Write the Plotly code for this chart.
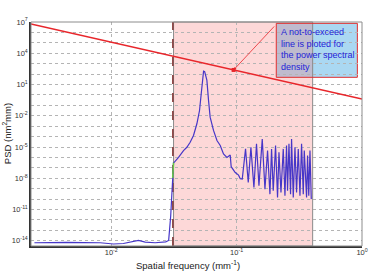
import math
import plotly.graph_objects as go

# ---------------- data ----------------
freq = [0.00244, 0.00442, 0.00815, 0.01042, 0.01250, 0.01504, 0.01648, 0.01866,
        0.02241, 0.0272, 0.0287, 0.0298, 0.0305, 0.0309, 0.0314,
        0.0318, 0.0344, 0.0377, 0.0401, 0.0426, 0.0453, 0.0482, 0.0506, 0.0522,
        0.0534, 0.0545, 0.0556, 0.0579, 0.0597, 0.0615, 0.0654, 0.0697, 0.0740,
        0.0786, 0.0837, 0.0889, 0.0905, 0.0975, 0.1036, 0.1069,
        0.1109, 0.1178, 0.1238, 0.1300, 0.1374, 0.1441, 0.1507, 0.1601, 0.1682,
        0.1765, 0.1844, 0.1900, 0.1959, 0.2044, 0.2120, 0.2176, 0.2258, 0.2355,
        0.2429, 0.2501, 0.2548, 0.2615, 0.2693, 0.2743, 0.2830, 0.2920, 0.3007,
        0.3101, 0.3200, 0.3296, 0.3401, 0.3464, 0.3613, 0.3680, 0.3762, 0.3846,
        0.3939]
psd = [6.5e-15, 7.1e-15, 6.5e-15, 4.9e-15, 5.5e-15, 7.9e-15, 1.07e-14, 7.6e-15,
       6.5e-15, 7.9e-15, 1.07e-14, 2.4e-12, 6.3e-10, 1.1e-8, 3.2e-7,
       3.4e-7, 1.0e-6, 4.6e-6, 9.4e-6, 2.9e-5, 1.3e-4, 1.7e-3, 0.032, 1.3,
       53, 190, 170, 26, 0.30, 7.4e-3, 3.9e-4, 4.2e-5, 1.4e-5,
       2.2e-6, 1.0e-6, 1.7e-6, 1.3e-7, 3.6e-8, 2.0e-8, 9.1e-9,
       8.5e-9, 6.6e-6, 4.0e-9, 9.3e-6, 1.3e-9, 2.0e-5, 1.9e-9, 6.0e-5, 9.1e-10,
       4.6e-6, 3.0e-10, 6.6e-6, 6.3e-10, 1.4e-5, 1.4e-10, 3.1e-6, 4.3e-10, 6.6e-6,
       2.1e-10, 1.4e-5, 6.3e-10, 2.0e-5, 3.0e-10, 6.0e-5, 1.4e-10, 9.3e-6, 4.3e-10,
       6.6e-6, 2.1e-10, 2.0e-5, 3.0e-10, 4.6e-6, 1.4e-10, 1.5e-6, 2.1e-10, 4.6e-6,
       1.0e-10]

green_freq = [0.0309, 0.0314]
green_psd = [1.1e-8, 3.2e-7]

limit_freq = [0.00229, 1.0]
limit_psd = [6.5e6, 0.40]

callout_freq = [0.0946]
callout_psd = [250]

band_low, band_high = 0.0314, 0.404
cutoff_freq = 0.0310

y_decades = list(range(-14, 8))
y_tickvals = [10.0 ** k for k in y_decades]
y_ticktext = [f"10<sup>{k}</sup>" if (7 - k) % 3 == 0 else "" for k in y_decades]
x_tickvals = [0.01, 0.1, 1.0]
x_ticktext = ["10<sup>-2</sup>", "10<sup>-1</sup>", "10<sup>0</sup>"]

note_text = "A not-to-exceed<br>line is ploted for<br>the power spectral<br>density"

FONT = "Arial, Liberation Sans, sans-serif"

fig = go.Figure()
fig.add_trace(go.Scatter(x=freq, y=psd, mode="lines",
                         line=dict(color="#4636c8", width=1.2), hoverinfo="skip"))
fig.add_trace(go.Scatter(x=green_freq, y=green_psd, mode="lines",
                         line=dict(color="#66cc44", width=1.5), hoverinfo="skip"))
fig.add_trace(go.Scatter(x=limit_freq, y=limit_psd, mode="lines",
                         line=dict(color="#e8262b", width=1.6), hoverinfo="skip"))
fig.add_trace(go.Scatter(x=callout_freq, y=callout_psd, mode="markers",
                         marker=dict(color="#e8262b", size=4, symbol="square"),
                         hoverinfo="skip"))

# callout box fill (below pink band)
box = dict(x0=0.741, x1=0.986, y0=0.753, y1=0.994)
fig.add_shape(type="rect", xref="paper", yref="paper", **box,
              fillcolor="#aad8f2", line=dict(width=0), layer="below")
# highlighted band
fig.add_shape(type="rect", xref="x", yref="paper", x0=band_low, x1=band_high, y0=0, y1=1,
              fillcolor="rgba(248,110,110,0.27)", line=dict(color="#8a8a8a", width=1),
              layer="below")
# callout box outline
fig.add_shape(type="rect", xref="paper", yref="paper", **box,
              fillcolor="rgba(0,0,0,0)", line=dict(color="#e03030", width=1), layer="below")
# dashed cutoff line
fig.add_shape(type="line", xref="x", yref="paper", x0=cutoff_freq, x1=cutoff_freq, y0=0, y1=1,
              line=dict(color="#7a1e1e", width=1.3, dash="dash"), layer="between")
# plot frame (top/right gray)
fig.add_shape(type="rect", xref="paper", yref="paper", x0=0, x1=1, y0=0, y1=1,
              line=dict(color="#8c8c8c", width=1), fillcolor="rgba(0,0,0,0)", layer="above")

fig.add_annotation(xref="paper", yref="paper", x=0.748, y=0.988, xanchor="left", yanchor="top",
                   text=note_text, showarrow=False, align="left",
                   font=dict(family=FONT, size=9, color="#2323d8"))
fig.add_annotation(x=math.log10(callout_freq[0]), y=math.log10(callout_psd[0]),
                   ax=42, ay=-45, text="", showarrow=True, arrowhead=2, arrowsize=0.7,
                   arrowwidth=0.8, arrowcolor="#e8262b")

fig.add_annotation(xref="paper", yref="paper", x=0.475, y=-0.087, xanchor="center", yanchor="middle",
                   text="Spatial frequency (mm<sup>-1</sup>)",
                   showarrow=False, font=dict(family=FONT, size=9.5, color="#222"))
fig.add_annotation(xref="paper", yref="paper", x=-0.072, y=0.5, xanchor="center", yanchor="middle",
                   text="PSD (nm<sup>2</sup>mm)",
                   textangle=-90, showarrow=False, font=dict(family=FONT, size=9.5, color="#222"))

fig.update_xaxes(type="log", range=[-2.64, 0], tickvals=x_tickvals, ticktext=x_ticktext,
                 showgrid=True, gridcolor="#b4b4b4", griddash="dot", gridwidth=1,
                 showline=True, linecolor="#333", linewidth=1.5, ticks="", zeroline=False,
                 ticklabelstandoff=-2,
                 tickfont=dict(family=FONT, size=7.5, color="#333"), automargin=False)
fig.update_yaxes(type="log", range=[-14.5, 7], tickvals=y_tickvals, ticktext=y_ticktext,
                 showgrid=True, gridcolor="#b4b4b4", griddash="dot", gridwidth=1,
                 showline=True, linecolor="#333", linewidth=1.5, ticks="", zeroline=False,
                 tickfont=dict(family=FONT, size=7.5, color="#333"), automargin=False)

fig.update_layout(width=369, height=271, margin=dict(l=31, r=7, t=22, b=25),
                  paper_bgcolor="white", plot_bgcolor="white", showlegend=False)

fig.write_html("out.html")
